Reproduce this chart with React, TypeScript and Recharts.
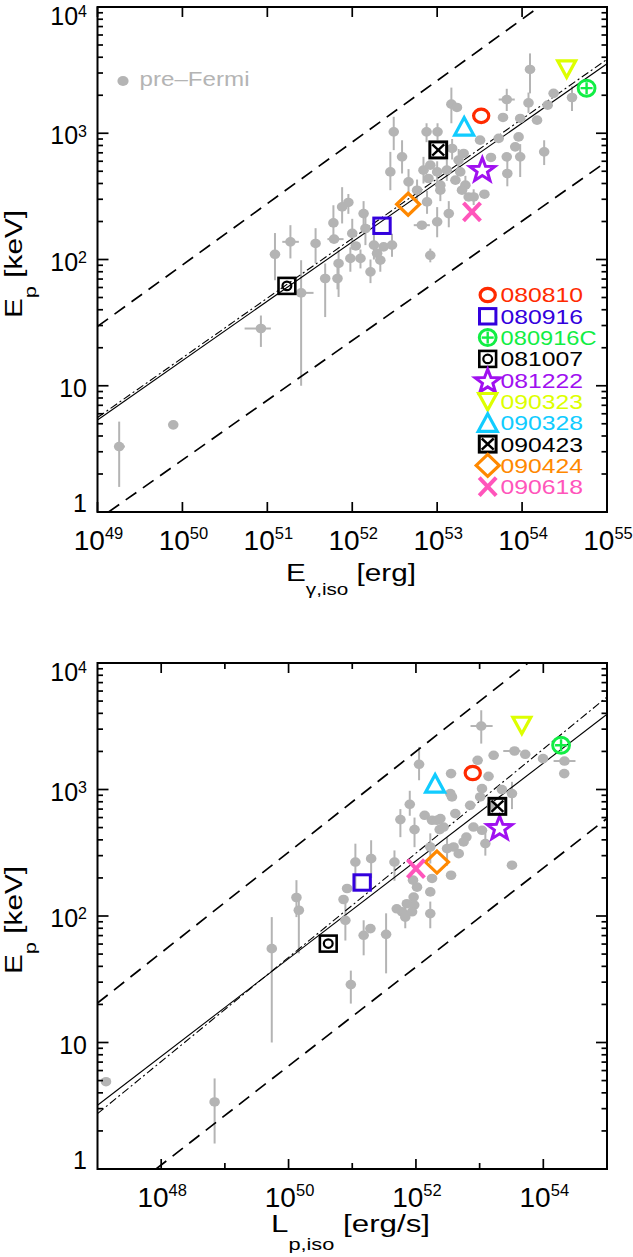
import React from 'react';
import { ScatterChart, Scatter, XAxis, YAxis, ErrorBar, ReferenceLine, ReferenceArea } from 'recharts';

const GREY = '#b4b4b4';
const FONT = '"Liberation Sans", Arial, sans-serif';

// ---------- Fermi GRBs (categories) ----------
const grbNames = ['080810', '080916', '080916C', '081007', '081222', '090323', '090328', '090423', '090424', '090618'];
const grbColors = ['#ff2a00', '#3300dd', '#11ee44', '#000000', '#a010f0', '#ddff00', '#11ccff', '#000000', '#ff8800', '#ff55bb'];
const grbShapes = ['circle', 'square', 'circlePlus', 'squareCircle', 'star', 'triDown', 'triUp', 'squareX', 'diamond', 'x'];

// top panel: E_gamma,iso [erg] vs Ep [keV]
const fermiEiso = [3.3e53, 2.24e52, 5.75e54, 1.7e51, 3.4e53, 3.35e54, 2.08e53, 1.03e53, 4.55e52, 2.57e53];
const fermiEpTop = [1374, 185, 2277, 61.8, 522, 3240, 1130, 738, 274, 238];
// bottom panel: L_p,iso [erg/s] vs Ep [keV]
const fermiLiso = [7.8e52, 1.43e51, 1.9e54, 4.2e50, 2.06e53, 4.6e53, 2.0e52, 1.9e53, 2.14e52, 1.0e52];
const fermiEpBottom = [1350, 184, 2236, 60.5, 505, 3220, 1113, 736, 267, 237];

// pre-Fermi sample: [x, Ep, EpLow, EpHigh, xLow, xHigh]
const preFermiEiso: (number | null)[][] = [
  [1.8e49, 3.3, 1.58, 5.2, 1.6e49, 2.1e49],
  [7.8e49, 4.9, null, null, 7.2e49, 8.5e49],
  [8.4e50, 28.4, 20.3, 36, 5.4e50, 1.1e51],
  [1.23e51, 110, 68.5, 162, null, null],
  [1.87e51, 138, 102, 187, 1.5e51, 2.35e51],
  [2.5e51, 54.4, 10, 98.7, 2.05e51, 3.5e51],
  [3.7e51, 134, 93.5, 177, null, null],
  [4.8e51, 70.7, 35, 93, null, null],
  [6.0e51, 195, 151, 269, null, null],
  [6.1e51, 145, null, null, 5.1e51, 7.9e51],
  [6.7e51, 70.7, 58, 88, null, null],
  [6.9e51, 93, 50.5, 118.5, null, null],
  [7.6e51, 261, 193, 374, null, null],
  [9.0e51, 283, 230, 330, null, null],
  [1.0e52, 161, 120, 210, null, null],
  [1.1e52, 128, null, null, null, null],
  [9.5e51, 102, 80, 125, null, null],
  [1.36e52, 231, 180, 290, null, null],
  [1.43e52, 176, 130, 220, null, null],
  [1.8e52, 130, 100, 160, null, null],
  [2.34e52, 126, null, null, null, null],
  [2.94e52, 130, 105, 160, null, null],
  [1.96e52, 112, null, null, null, null],
  [2.14e52, 98.7, 80, 130, null, null],
  [1.25e52, 102, 85, 120, null, null],
  [1.64e52, 79.8, 65, 100, null, null],
  [3.08e52, 1026, 735, 1350, null, null],
  [3.86e52, 650, 480, 880, null, null],
  [2.81e52, 494, 354, 712, null, null],
  [4.6e52, 412, 330, 520, null, null],
  [5.8e52, 354, 290, 430, null, null],
  [7.6e52, 286, 230, 350, null, null],
  [6.9e52, 510, 400, 650, null, null],
  [8.3e52, 559, null, null, null, null],
  [1.0e53, 494, 400, 600, null, null],
  [7.9e52, 438, null, null, null, null],
  [1.09e53, 388, null, null, null, null],
  [1.3e53, 510, 420, 620, null, null],
  [7.5e52, 1026, 850, 1200, null, null],
  [1.01e53, 1026, 880, 1200, null, null],
  [1.47e53, 1700, 1200, 2300, null, null],
  [1.71e53, 1600, null, null, null, null],
  [3.2e53, 882, null, null, null, null],
  [1.5e53, 758, 620, 900, null, null],
  [2.05e53, 692, null, null, null, null],
  [1.79e53, 612, 500, 750, null, null],
  [1.87e53, 494, null, null, null, null],
  [1.64e53, 425, null, null, null, null],
  [2.15e53, 388, 330, 460, null, null],
  [1.96e53, 354, null, null, null, null],
  [2.35e53, 313, null, null, null, null],
  [2.69e53, 313, 270, 360, null, null],
  [1.09e53, 354, 290, 430, null, null],
  [6.6e52, 187, null, null, 5.3e52, 8.2e52],
  [1.0e53, 199, 150, 260, null, null],
  [1.37e53, 231, 180, 290, null, null],
  [8.3e52, 108, 95, 122, 7.4e52, 9.3e52],
  [1.24e54, 3200, 2070, 4290, null, null],
  [6.6e53, 1850, 1500, 2250, 5.3e53, 8.2e53],
  [1.19e54, 1740, 1450, 2100, null, null],
  [2.35e54, 2070, null, null, null, null],
  [2.0e54, 1670, null, null, null, null],
  [3.87e54, 1920, 1500, 2350, null, null],
  [5.96e53, 1334, null, null, null, null],
  [9.5e53, 1310, null, null, null, null],
  [1.5e54, 1270, null, null, null, null],
  [5.3e53, 910, null, null, null, null],
  [9.1e53, 936, null, null, null, null],
  [8.3e53, 780, null, null, null, null],
  [6.6e53, 650, null, null, null, null],
  [9.5e53, 650, 450, 820, null, null],
  [4.3e53, 643, null, null, null, null],
  [1.82e54, 712, 560, 880, null, null],
  [6.7e53, 480, 380, 620, null, null],
  [3.6e53, 329, null, null, null, null],
];

const preFermiLiso: (number | null)[][] = [
  [1.36e47, 4.9, null, null, null, null],
  [6.9e48, 3.39, 1.59, 5.2, null, null],
  [9.5e50, 28.7, 20.3, 37, null, null],
  [5.45e49, 55.2, 10, 98, 4.6e49, 6.4e49],
  [1.33e50, 140, 98, 192, null, null],
  [1.45e50, 111, 50.7, 133, null, null],
  [1.12e51, 267, 160, 373, null, null],
  [1.98e51, 284, 200, 397, null, null],
  [8.3e50, 165, null, null, null, null],
  [7.3e50, 135, null, null, null, null],
  [7.8e50, 92.5, 64, 133, null, null],
  [1.93e51, 79.5, null, null, null, null],
  [1.51e51, 70.4, 48.9, 92.5, null, null],
  [3.4e51, 71.6, 35.2, 105, null, null],
  [4.6e51, 267, 190, 330, null, null],
  [8.0e51, 764, 620, 977, null, null],
  [5.7e51, 578, 420, 700, null, null],
  [1.37e52, 625, null, null, null, null],
  [9.5e51, 482, 350, 600, null, null],
  [1.79e52, 571, null, null, null, null],
  [2.14e52, 571, null, null, null, null],
  [2.36e52, 482, null, null, null, null],
  [1.68e52, 351, 260, 450, null, null],
  [3.08e52, 341, 250, 420, null, null],
  [9.0e51, 192, null, null, null, null],
  [1.04e52, 169, null, null, null, null],
  [9.2e51, 141, null, null, null, null],
  [9.4e51, 122, null, null, null, null],
  [7.2e51, 125, null, null, null, null],
  [5.0e51, 114, null, null, null, null],
  [6.05e51, 108, null, null, null, null],
  [8.7e51, 108, null, null, null, null],
  [6.8e51, 98, 80, 120, null, null],
  [1.68e52, 155, null, null, null, null],
  [1.79e52, 198, null, null, null, null],
  [1.68e52, 104.5, 80, 130, null, null],
  [3.47e52, 929, null, null, null, null],
  [1.12e52, 1582, 1183, 2170, null, null],
  [1.06e53, 3175, 2306, 4230, 7.2e52, 1.6e53],
  [3.56e52, 1336, null, null, null, null],
  [9.3e52, 1702, null, null, null, null],
  [1.66e53, 1864, null, null, null, null],
  [1.38e53, 1271, null, null, null, null],
  [3.53e53, 2015, null, null, 2.35e53, 4.4e53],
  [5.2e53, 1897, null, null, null, null],
  [9.9e53, 1754, null, null, null, null],
  [2.15e54, 1679, null, null, 1.45e54, 3.2e54],
  [2.13e54, 1336, null, null, null, null],
  [3.22e53, 929, 700, 1150, null, null],
  [2.24e53, 998, null, null, null, null],
  [1.09e53, 1016, null, null, null, null],
  [1.02e53, 873, null, null, null, null],
  [3.68e52, 873, null, null, null, null],
  [7.1e52, 750, null, null, null, null],
  [4.15e52, 645, null, null, null, null],
  [2.42e52, 589, null, null, null, null],
  [2.72e52, 505, null, null, null, null],
  [8.0e52, 505, null, null, null, null],
  [1.09e53, 476, null, null, null, null],
  [6.2e52, 421, null, null, null, null],
  [1.23e53, 374, 300, 460, null, null],
  [5.6e52, 385, null, null, null, null],
  [3.9e52, 351, null, null, null, null],
  [4.7e52, 311, null, null, null, null],
  [3.22e53, 252, null, null, null, null],
  [3.56e52, 210, null, null, null, null],
  [1.56e53, 750, null, null, null, null],
];

// correlation lines: [x, Ep] endpoints
const topFitSolid = [[1e49, 5.36], [1e55, 3550]];
const topFitDashDot = [[1e49, 5.6], [1e55, 3850]];
const topUpper = [[1e49, 29.5], [1.58e54, 1e4]];
const topLower = [[1.35e49, 1], [1e55, 600]];
const botFitSolid = [[1e47, 3.19], [1e55, 3930]];
const botFitDashDot = [[1e47, 2.74], [1e55, 5390]];
const botUpper = [[1e47, 20.5], [5.75e53, 1e4]];
const botLower = [[8.3e47, 1], [1e55, 590]];

// ticks
const yTicks = [1, 2, 3, 4, 5, 6, 7, 8, 9, 10, 20, 30, 40, 50, 60, 70, 80, 90, 100, 200, 300, 400, 500, 600, 700, 800, 900,
  1000, 2000, 3000, 4000, 5000, 6000, 7000, 8000, 9000, 10000];
const yMajor = [1, 10, 100, 1000, 10000];
const topXTicks = [1e49, 1e50, 1e51, 1e52, 1e53, 1e54, 1e55];
const topXMajor = [1e49, 1e50, 1e51, 1e52, 1e53, 1e54, 1e55];
const botXTicks = [1e48, 1e49, 1e50, 1e51, 1e52, 1e53, 1e54];
const botXMajor = [1e48, 1e50, 1e52, 1e54];

const toRows = (pts: any[]) =>
  pts.map(([x, y, ylo, yhi, xlo, xhi]) => ({
    x,
    y,
    yerr: ylo != null ? [y - ylo, yhi - y] : undefined,
    xerr: xlo != null ? [x - xlo, xhi - x] : undefined,
  }));

const PLOT_LEFT = 97.5;
const PLOT_RIGHT = 607;

function Marker({ kind, color, cx, cy }: any) {
  if (cx == null || cy == null) return null;
  const common = { fill: 'none', stroke: color };
  switch (kind) {
    case 'circle':
      return <ellipse cx={cx} cy={cy} rx={7.6} ry={6.7} {...common} strokeWidth={3.2} />;
    case 'square':
      return <rect x={cx - 8.2} y={cy - 7.7} width={16.4} height={15.4} {...common} strokeWidth={3} />;
    case 'circlePlus':
      return (
        <g>
          <ellipse cx={cx} cy={cy} rx={8.4} ry={8} {...common} strokeWidth={3} />
          <line x1={cx - 6} y1={cy} x2={cx + 6} y2={cy} stroke={color} strokeWidth={2.4} />
          <line x1={cx} y1={cy - 6} x2={cx} y2={cy + 6} stroke={color} strokeWidth={2.4} />
        </g>
      );
    case 'squareCircle':
      return (
        <g>
          <rect x={cx - 8.4} y={cy - 8} width={16.8} height={16} {...common} strokeWidth={2.6} />
          <ellipse cx={cx} cy={cy} rx={4.4} ry={4.2} {...common} strokeWidth={2.2} />
        </g>
      );
    case 'star': {
      const pts: string[] = [];
      for (let k = 0; k < 10; k++) {
        const r = k % 2 === 0 ? 12.5 : 5.2;
        const a = -Math.PI / 2 + (k * Math.PI) / 5;
        pts.push(`${cx + 1.05 * r * Math.cos(a)},${cy + 1.0 * r * Math.sin(a) + 1.5}`);
      }
      return <polygon points={pts.join(' ')} {...common} strokeWidth={3} strokeLinejoin="miter" />;
    }
    case 'triDown':
      return <polygon points={`${cx - 9},${cy - 8} ${cx + 9},${cy - 8} ${cx},${cy + 8.5}`} {...common} strokeWidth={3.2} />;
    case 'triUp':
      return <polygon points={`${cx - 9.5},${cy + 8.5} ${cx + 9.5},${cy + 8.5} ${cx},${cy - 9}`} {...common} strokeWidth={3.2} />;
    case 'squareX':
      return (
        <g>
          <rect x={cx - 8.4} y={cy - 8} width={16.8} height={16} {...common} strokeWidth={3} />
          <line x1={cx - 6} y1={cy - 5.6} x2={cx + 6} y2={cy + 5.6} stroke={color} strokeWidth={2.4} />
          <line x1={cx + 6} y1={cy - 5.6} x2={cx - 6} y2={cy + 5.6} stroke={color} strokeWidth={2.4} />
        </g>
      );
    case 'diamond':
      return <polygon points={`${cx},${cy - 11} ${cx + 11.5},${cy} ${cx},${cy + 11} ${cx - 11.5},${cy}`} {...common} strokeWidth={3.2} />;
    case 'x':
      return (
        <g>
          <line x1={cx - 8.5} y1={cy - 9} x2={cx + 8.5} y2={cy + 9} stroke={color} strokeWidth={4} />
          <line x1={cx + 8.5} y1={cy - 9} x2={cx - 8.5} y2={cy + 9} stroke={color} strokeWidth={4} />
        </g>
      );
    default:
      return null;
  }
}

const greyDot = (p: any) =>
  p.cx == null ? null : <ellipse cx={p.cx} cy={p.cy} rx={5.3} ry={4.8} fill={GREY} />;

function XTick({ x, y, payload, plotH, major }: any) {
  const v = payload.value;
  const isMajor = major.includes(v);
  const len = isMajor ? 10 : 6;
  const exp = Math.round(Math.log10(v));
  return (
    <g>
      <line x1={x} y1={y} x2={x} y2={y - len} stroke="#000" strokeWidth={1.7} />
      <line x1={x} y1={y - plotH} x2={x} y2={y - plotH + len} stroke="#000" strokeWidth={1.7} />
      {isMajor && (
        <text x={x + 1} y={y + 38} textAnchor="middle" fontFamily={FONT} fontSize={28} fill="#000">
          10<tspan fontSize={16.5} dy={-11}>{exp}</tspan>
        </text>
      )}
    </g>
  );
}

function YTick({ x, y, payload, plotW }: any) {
  const v = payload.value;
  const isMajor = yMajor.includes(v);
  const len = isMajor ? 11 : 5.5;
  const exp = Math.round(Math.log10(v));
  let dy = 11;
  if (v === 10000) dy = 18;
  if (v === 1) dy = 0;
  return (
    <g>
      <line x1={x} y1={y} x2={x + len} y2={y} stroke="#000" strokeWidth={1.7} />
      <line x1={x + plotW} y1={y} x2={x + plotW - len} y2={y} stroke="#000" strokeWidth={1.7} />
      {isMajor && (
        <text x={x - 10.5} y={y + dy} textAnchor="end" fontFamily={FONT} fontSize={25} fill="#000">
          {exp <= 1 ? String(v) : '10'}
          {exp > 1 && (
            <tspan fontSize={16} dy={-7.7}>
              {exp}
            </tspan>
          )}
        </text>
      )}
    </g>
  );
}

function Panel({ height, marginTop, xAxisHeight, xDomain, xTicks, xMajor, pts, fermiX, fermiY, lines }: any) {
  const width = 633;
  const plotW = PLOT_RIGHT - PLOT_LEFT;
  const plotH = height - xAxisHeight - marginTop;
  const rows = toRows(pts);
  return (
    <ScatterChart width={width} height={height} margin={{ top: marginTop, right: width - PLOT_RIGHT, bottom: 0, left: 0 }}>
      <XAxis
        type="number"
        dataKey="x"
        scale="log"
        domain={xDomain}
        allowDataOverflow
        ticks={xTicks}
        interval={0}
        tickSize={0}
        tickMargin={0}
        axisLine={false}
        tickLine={false}
        height={xAxisHeight}
        tick={(p: any) => <XTick {...p} plotH={plotH} major={xMajor} />}
      />
      <YAxis
        type="number"
        dataKey="y"
        scale="log"
        domain={[1, 10000]}
        allowDataOverflow
        ticks={yTicks}
        interval={0}
        tickSize={0}
        tickMargin={0}
        axisLine={false}
        tickLine={false}
        width={PLOT_LEFT}
        tick={(p: any) => <YTick {...p} plotW={plotW} />}
      />
      <Scatter data={rows} isAnimationActive={false} shape={greyDot} fill={GREY}>
        <ErrorBar dataKey="yerr" direction="y" width={0} stroke={GREY} strokeWidth={2} />
        <ErrorBar dataKey="xerr" direction="x" width={0} stroke={GREY} strokeWidth={2} />
      </Scatter>
      {lines.map((ln: any, i: number) => (
        <ReferenceLine
          key={i}
          segment={[
            { x: ln.pts[0][0], y: ln.pts[0][1] },
            { x: ln.pts[1][0], y: ln.pts[1][1] },
          ]}
          stroke="#000"
          strokeWidth={ln.w}
          strokeDasharray={ln.dash}
          ifOverflow="hidden"
        />
      ))}
      {grbNames.map((n, i) => (
        <Scatter
          key={n}
          name={n}
          data={[{ x: fermiX[i], y: fermiY[i] }]}
          isAnimationActive={false}
          fill={grbColors[i]}
          shape={(p: any) => <Marker kind={grbShapes[i]} color={grbColors[i]} cx={p.cx} cy={p.cy} />}
        />
      ))}
      <ReferenceArea
        x1={xDomain[0]}
        x2={xDomain[1]}
        y1={1}
        y2={10000}
        fill="none"
        fillOpacity={0}
        stroke="#000"
        strokeWidth={2}
        ifOverflow="visible"
      />
    </ScatterChart>
  );
}

const topLines = [
  { pts: topFitSolid, w: 1.1, dash: undefined },
  { pts: topFitDashDot, w: 1.1, dash: '8 3 2 3' },
  { pts: topUpper, w: 1.7, dash: '13 8' },
  { pts: topLower, w: 1.7, dash: '13 8' },
];
const botLines = [
  { pts: botFitSolid, w: 1.1, dash: undefined },
  { pts: botFitDashDot, w: 1.1, dash: '8 3 2 3' },
  { pts: botUpper, w: 1.7, dash: '13 8' },
  { pts: botLower, w: 1.7, dash: '13 8' },
];

function YTitle({ tx, ty }: any) {
  return (
    <text
      transform={`translate(${tx},${ty}) rotate(-90)`}
      x={0}
      y={0}
      fontFamily={FONT}
      fontSize={23}
      fill="#000"
      textLength={108}
      lengthAdjust="spacingAndGlyphs"
    >
      E<tspan fontSize={17} dy={14}>p</tspan>
      <tspan dy={-14}>{' [keV]'}</tspan>
    </text>
  );
}

export default function App() {
  const legendTop = 295;
  const legendStep = 21.3;
  return (
    <div style={{ position: 'absolute', left: 0, top: 0, width: 633, height: 1257, background: '#fff' }}>
      <div style={{ position: 'absolute', left: 0, top: 0 }}>
        <Panel
          height={620}
          marginTop={7}
          xAxisHeight={108}
          xDomain={[1e49, 1e55]}
          xTicks={topXTicks}
          xMajor={topXMajor}
          pts={preFermiEiso}
          fermiX={fermiEiso}
          fermiY={fermiEpTop}
          lines={topLines}
        />
      </div>
      <div style={{ position: 'absolute', left: 0, top: 620 }}>
        <Panel
          height={637}
          marginTop={43}
          xAxisHeight={88}
          xDomain={[1e47, 1e55]}
          xTicks={botXTicks}
          xMajor={botXMajor}
          pts={preFermiLiso}
          fermiX={fermiLiso}
          fermiY={fermiEpBottom}
          lines={botLines}
        />
      </div>
      <svg width={633} height={1257} style={{ position: 'absolute', left: 0, top: 0, pointerEvents: 'none' }}>
        {/* axis titles */}
        <YTitle tx={22} ty={318} />
        <YTitle tx={22} ty={974} />
        <text x={286} y={581} fontFamily={FONT} fontSize={23} fill="#000" textLength={130} lengthAdjust="spacingAndGlyphs">
          E<tspan fontSize={16} dy={14}>γ,iso</tspan>
          <tspan dy={-14}>{' [erg]'}</tspan>
        </text>
        <text x={271} y={1232} fontFamily={FONT} fontSize={23} fill="#000" textLength={159} lengthAdjust="spacingAndGlyphs">
          L<tspan fontSize={16} dy={18}>p,iso</tspan>
          <tspan dy={-18}>{' [erg/s]'}</tspan>
        </text>
        {/* pre-Fermi legend */}
        <ellipse cx={123} cy={81} rx={5.6} ry={5} fill={GREY} />
        <text x={139.5} y={86} fontFamily={FONT} fontSize={20} fill={GREY} textLength={110} lengthAdjust="spacingAndGlyphs">
          pre–Fermi
        </text>
        {/* Fermi legend */}
        {grbNames.map((n, i) => {
          const cy = legendTop + legendStep * i;
          return (
            <g key={n}>
              <Marker kind={grbShapes[i]} color={grbColors[i]} cx={487.7} cy={cy} />
              <text
                x={500.6}
                y={cy + 7.4}
                fontFamily={FONT}
                fontSize={20.5}
                fill={grbColors[i]}
                textLength={n.length > 6 ? 96 : 82.5}
                lengthAdjust="spacingAndGlyphs"
              >
                {n}
              </text>
            </g>
          );
        })}
      </svg>
    </div>
  );
}
